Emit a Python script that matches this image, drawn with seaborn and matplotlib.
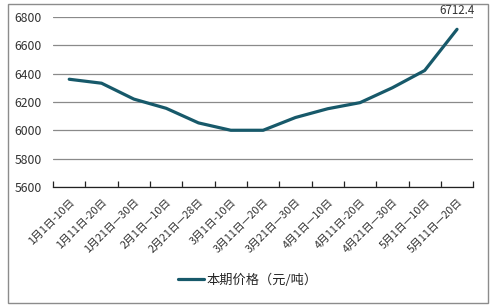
import matplotlib
matplotlib.use("Agg")
import matplotlib.pyplot as plt
from matplotlib.patches import Rectangle
from matplotlib.ticker import FixedLocator
import seaborn as sns
import pandas as pd
import numpy as np

periods = ["1月1日-10日", "1月11日-20日", "1月21日—30日", "2月1日—10日", "2月21日—28日",
           "3月1日-10日", "3月11日—20日", "3月21日—30日", "4月1日—10日", "4月11日-20日",
           "4月21日—30日", "5月1日—10日", "5月11日—20日"]
prices = [6360, 6332, 6220, 6155, 6052, 6000, 6000, 6090, 6152, 6195, 6300, 6422, 6712.4]
series_name = "本期价格（元/吨）"
y_ticks = [5600, 5800, 6000, 6200, 6400, 6600, 6800]

sns.set_theme(style="white")
plt.rcParams["font.family"] = ["Noto Sans CJK SC", "DejaVu Sans"]

df = pd.DataFrame({"period": periods, "price": prices, "idx": np.arange(len(periods))})

fig = plt.figure(figsize=(4.96, 3.07), dpi=100)
fig.patch.set_facecolor("white")
ax = fig.add_axes([0.107, 0.391, 0.847, 0.554])

line_color = "#17596a"
sns.lineplot(data=df, x="idx", y="price", ax=ax, color=line_color, linewidth=2.3,
             label=series_name, legend=False, solid_joinstyle="round", solid_capstyle="round")

ax.set_xlim(-0.5, len(periods) - 0.5)
ax.set_ylim(y_ticks[0], y_ticks[-1])
ax.set_yticks(y_ticks)
ax.set_yticklabels([str(v) for v in y_ticks], fontsize=8.8, color="#333333")
ax.yaxis.grid(True, color="#8a8a8a", linewidth=0.9)
ax.set_axisbelow(True)

ax.set_xticks(np.arange(len(periods)))
ax.set_xticklabels(periods, rotation=45, ha="right", rotation_mode="anchor",
                   fontsize=7.8, color="#333333")
ax.xaxis.set_minor_locator(FixedLocator(np.arange(len(periods) + 1) - 0.5))
ax.tick_params(axis="x", which="major", length=0, pad=7)
ax.tick_params(axis="x", which="minor", direction="in", length=4, width=0.9,
               color="#222222", bottom=True)
ax.tick_params(axis="y", length=0, pad=8)

for side in ["top", "right", "left"]:
    ax.spines[side].set_visible(False)
ax.spines["bottom"].set_color("#222222")
ax.spines["bottom"].set_linewidth(0.9)
ax.set_xlabel("")
ax.set_ylabel("")

last = len(prices) - 1
ax.annotate(f"{prices[last]:.1f}", xy=(last, prices[last]), xytext=(0, 9),
            textcoords="offset points", ha="center", va="bottom",
            fontsize=8.3, color="#333333", annotation_clip=False)

handles, labels = ax.get_legend_handles_labels()
fig.legend(handles, labels, loc="center", bbox_to_anchor=(0.5, 0.088), frameon=False,
           fontsize=9.5, handlelength=2.0, handletextpad=0.2)

fig.patches.append(Rectangle((8 / 496, 4 / 307), 480 / 496, 299 / 307,
                             transform=fig.transFigure, fill=False,
                             edgecolor="#8c8c8c", linewidth=1))

fig.savefig("out.png", dpi=100)
